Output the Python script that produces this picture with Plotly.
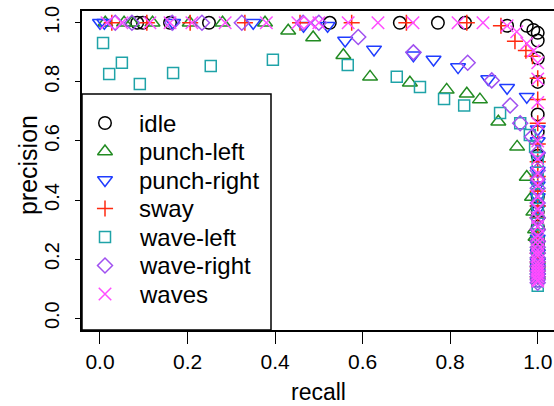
import plotly.graph_objects as go

# ---- data (recall, precision) per class ----
classes = ["idle", "punch-left", "punch-right", "sway", "wave-left", "wave-right", "waves"]

idle_recall = [0.085, 0.098, 0.16, 0.249, 0.525, 0.685, 0.772, 0.834, 0.93, 0.975, 0.99, 1.0,
               1.0, 1.0, 1.0, 1.0, 1.0, 1.0, 1.0, 1.0, 1.0, 1.0, 1.0, 1.0, 1.0, 1.0, 1.0, 1.0, 1.0]
idle_precision = [1.0, 1.0, 1.0, 1.0, 1.0, 1.0, 1.0, 1.0, 0.99, 0.99, 0.976, 0.966,
                  0.94, 0.88, 0.80, 0.69, 0.63, 0.55, 0.47, 0.41, 0.36, 0.31, 0.27, 0.23, 0.20, 0.17, 0.15,
                  0.34, 0.25]

punch_left_recall = [0.012, 0.055, 0.073, 0.12, 0.205, 0.28, 0.377, 0.43, 0.487, 0.556, 0.617, 0.708,
                     0.792, 0.838, 0.868, 0.91, 0.953, 0.975, 0.987, 0.99, 0.994, 0.995, 1.0, 1.0, 1.0, 1.0,
                     1.0, 1.0]
punch_left_precision = [1.0, 1.0, 1.0, 1.0, 1.0, 1.0, 1.0, 0.973, 0.95, 0.89, 0.817, 0.797,
                        0.773, 0.76, 0.74, 0.665, 0.58, 0.478, 0.41, 0.36, 0.30, 0.275, 0.24, 0.21, 0.18, 0.16,
                        0.195, 0.145]

punch_right_recall = [0.0, 0.01, 0.167, 0.35, 0.465, 0.52, 0.56, 0.626, 0.716, 0.762, 0.818, 0.887,
                      0.93, 0.975, 1.0, 1.0, 1.0, 1.0, 1.0, 1.0, 1.0, 1.0, 1.0, 1.0, 1.0, 1.0, 1.0,
                      1.0, 1.0, 1.0]
punch_right_precision = [1.0, 1.0, 1.0, 1.0, 0.99, 0.99, 0.94, 0.91, 0.89, 0.876, 0.85, 0.81,
                         0.78, 0.75, 0.64, 0.60, 0.55, 0.50, 0.45, 0.41, 0.37, 0.33, 0.29, 0.25, 0.22, 0.19, 0.17,
                         0.27, 0.155, 0.14]

sway_recall = [0.027, 0.107, 0.206, 0.331, 0.457, 0.575, 0.70, 0.838, 0.916, 0.948, 0.973, 0.988,
               1.0, 1.0, 1.0, 1.0, 1.0, 1.0, 1.0, 1.0, 1.0, 1.0, 1.0, 1.0, 1.0, 1.0, 1.0, 1.0]
sway_precision = [1.0, 1.0, 1.0, 1.0, 1.0, 1.0, 1.0, 1.0, 0.99, 0.938, 0.906, 0.887,
                  0.812, 0.74, 0.66, 0.59, 0.53, 0.48, 0.43, 0.38, 0.34, 0.30, 0.26, 0.22, 0.19, 0.16,
                  0.175, 0.14]

wave_left_recall = [0.007, 0.021, 0.05, 0.091, 0.167, 0.253, 0.395, 0.566, 0.678, 0.731, 0.786, 0.832,
                    0.914, 0.96, 0.982, 0.994, 1.0, 1.0, 1.0, 1.0, 1.0, 1.0, 1.0, 1.0, 1.0, 1.0, 1.0,
                    1.0, 1.0]
wave_left_precision = [0.932, 0.827, 0.865, 0.793, 0.83, 0.854, 0.875, 0.857, 0.817, 0.783, 0.742, 0.72,
                       0.695, 0.66, 0.62, 0.58, 0.53, 0.47, 0.42, 0.37, 0.32, 0.28, 0.24, 0.20, 0.17, 0.14, 0.11,
                       0.155, 0.125]

wave_right_recall = [0.035, 0.073, 0.165, 0.233, 0.324, 0.464, 0.5, 0.59, 0.716, 0.84, 0.895, 0.937,
                     0.96, 0.987, 1.0, 1.0, 1.0, 1.0, 1.0, 1.0, 1.0, 1.0, 1.0, 1.0, 1.0, 1.0,
                     1.0, 1.0, 1.0, 1.0, 1.0, 1.0]
wave_right_precision = [1.0, 1.0, 1.0, 1.0, 1.0, 1.0, 1.0, 0.952, 0.9, 0.865, 0.805, 0.72,
                        0.66, 0.614, 0.56, 0.50, 0.44, 0.39, 0.34, 0.30, 0.26, 0.22, 0.19, 0.16, 0.14, 0.12,
                        0.47, 0.24, 0.205, 0.175, 0.15, 0.13]

waves_recall = [0.016, 0.05, 0.114, 0.16, 0.21, 0.286, 0.38, 0.452, 0.48, 0.5, 0.567, 0.635, 0.715,
                0.818, 0.875, 0.93, 0.952, 0.975, 0.99, 1.0, 1.0, 1.0, 1.0, 1.0, 1.0, 1.0, 1.0, 1.0,
                1.0, 1.0, 1.0, 1.0, 1.0, 1.0, 1.0, 1.0, 1.0, 1.0, 1.0,
                1.0, 1.0, 1.0, 1.0, 1.0, 1.0]
waves_precision = [1.0, 1.0, 1.0, 1.0, 1.0, 1.0, 1.0, 1.0, 1.0, 1.0, 1.0, 1.0, 1.0,
                   1.0, 1.0, 0.99, 0.97, 0.93, 0.905, 0.865, 0.81, 0.73, 0.66, 0.60, 0.54, 0.49, 0.45, 0.41,
                   0.37, 0.34, 0.31, 0.28, 0.25, 0.23, 0.21, 0.19, 0.17, 0.15, 0.13,
                   0.265, 0.22, 0.18, 0.16, 0.14, 0.125]

x_ticks = [0.0, 0.2, 0.4, 0.6, 0.8, 1.0]
x_tick_labels = ["0.0", "0.2", "0.4", "0.6", "0.8", "1.0"]
y_ticks = [0.0, 0.2, 0.4, 0.6, 0.8, 1.0]
y_tick_labels = ["0.0", "0.2", "0.4", "0.6", "0.8", "1.0"]

series = [
    (classes[0], idle_recall, idle_precision, "circle-open", "#000000", 12.5),
    (classes[1], punch_left_recall, punch_left_precision, "triangle-up-open", "#228B22", 13),
    (classes[2], punch_right_recall, punch_right_precision, "triangle-down-open", "#1f3cff", 13),
    (classes[3], sway_recall, sway_precision, "cross-thin-open", "#ff2a10", 11.5),
    (classes[4], wave_left_recall, wave_left_precision, "square-open", "#1fa3a8", 11),
    (classes[5], wave_right_recall, wave_right_precision, "diamond-open", "#a050f0", 11.5),
    (classes[6], waves_recall, waves_precision, "x-thin-open", "#ff4cff", 12.5),
]

FONT = "Liberation Sans, Arial, sans-serif"
MLW = 1.5

# figure geometry (pixels)
W, H = 554, 406
ML, MR, MT, MB = 82, 0, 11, 76
PLOT_L, PLOT_R, PLOT_T, PLOT_B = ML, W - MR, MT, H - MB

# legend geometry (pixels in figure space)
LEG_L, LEG_R, LEG_T, LEG_B = 82, 271, 94, PLOT_B
LEG_SYM_X, LEG_TXT_X = 105, 137
LEG_ROW0, LEG_STEP = 123, 28.5

fig = go.Figure()
for name, xs, ys, sym, col, sz in series:
    fig.add_trace(go.Scatter(
        x=xs, y=ys, mode="markers", name=name, showlegend=False,
        marker=dict(symbol=sym, size=sz, color=col,
                    line=dict(color=col, width=MLW)),
    ))

# legend box (overlay axes in pixel units so it sits above the data)
fig.add_trace(go.Scatter(
    x=[LEG_L, LEG_R, LEG_R, LEG_L, LEG_L], y=[LEG_T, LEG_T, LEG_B, LEG_B, LEG_T],
    xaxis="x2", yaxis="y2", mode="lines", fill="toself", fillcolor="white",
    line=dict(color="black", width=1.5), showlegend=False, hoverinfo="skip",
    cliponaxis=False,
))
annotations = []
for i, (name, xs, ys, sym, col, sz) in enumerate(series):
    yy = LEG_ROW0 + i * LEG_STEP
    fig.add_trace(go.Scatter(
        x=[LEG_SYM_X], y=[yy], xaxis="x2", yaxis="y2", mode="markers",
        marker=dict(symbol=sym, size=sz, color=col, line=dict(color=col, width=MLW)),
        showlegend=False, hoverinfo="skip", cliponaxis=False,
    ))
    annotations.append(dict(
        text=name, xref="x2", yref="y2", x=LEG_TXT_X, y=yy,
        xanchor="left", yanchor="middle", showarrow=False,
        font=dict(size=24, family=FONT, color="black"),
    ))

annotations += [
    dict(text="recall", xref="paper", yref="paper", x=0.5, y=-0.194,
         xanchor="center", yanchor="middle", showarrow=False,
         font=dict(size=23, family=FONT, color="black")),
    dict(text="precision", xref="paper", yref="paper", x=-0.1144, y=0.517,
         xanchor="center", yanchor="middle", showarrow=False, textangle=-90,
         font=dict(size=25, family=FONT, color="black")),
]

fig.update_layout(
    width=W, height=H,
    margin=dict(l=ML, r=MR, t=MT, b=MB),
    paper_bgcolor="white", plot_bgcolor="white",
    font=dict(family=FONT, color="black"),
    showlegend=False,
    xaxis=dict(
        range=[-0.0411, 1.0372], showgrid=False, zeroline=False,
        showline=True, linecolor="black", linewidth=1.5, mirror=True,
        ticks="outside", ticklen=12, tickwidth=1.3, tickcolor="black",
        tickvals=x_ticks, ticktext=x_tick_labels,
        tickfont=dict(size=21, family=FONT, color="black"),
        ticklabelstandoff=0,
    ),
    yaxis=dict(
        range=[-0.04, 1.04], showgrid=False, zeroline=False,
        showline=True, linecolor="black", linewidth=1.5, mirror=False,
        ticks="outside", ticklen=5, tickwidth=1.3, tickcolor="black",
        tickvals=y_ticks, ticktext=y_tick_labels, tickangle=-90,
        tickfont=dict(size=20, family=FONT, color="black"),
        ticklabelstandoff=8,
    ),
    xaxis2=dict(overlaying="x", range=[PLOT_L, PLOT_R], visible=False, fixedrange=True),
    yaxis2=dict(overlaying="y", range=[PLOT_B, PLOT_T], visible=False, fixedrange=True),
    annotations=annotations,
)

fig.write_html("out.html")
